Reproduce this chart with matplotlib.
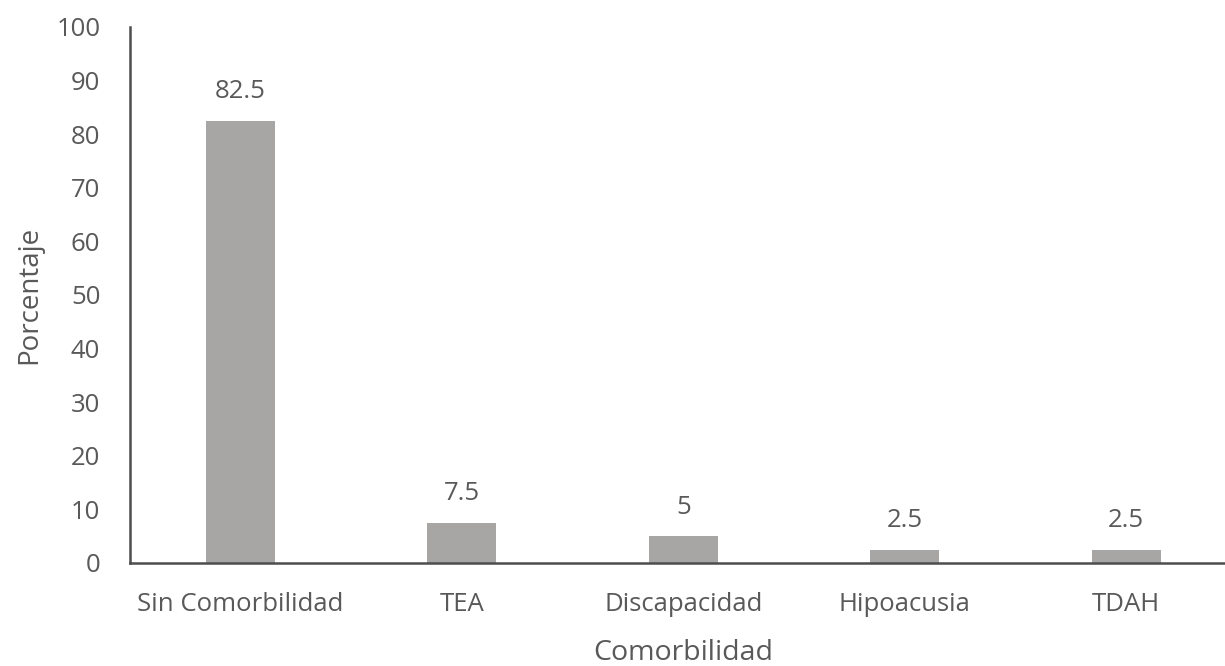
import matplotlib
matplotlib.use("Agg")
import matplotlib.pyplot as plt

categories = ["Sin Comorbilidad", "TEA", "Discapacidad", "Hipoacusia", "TDAH"]
values = [82.5, 7.5, 5, 2.5, 2.5]
value_labels = ["82.5", "7.5", "5", "2.5", "2.5"]
y_ticks = list(range(0, 101, 10))

plt.rcParams["font.family"] = ["Open Sans", "DejaVu Sans"]
text_color = "#595959"
bar_color = "#a8a5a5"
axis_color = "#4d4d4d"

W, H = 1225, 666
fig = plt.figure(figsize=(W / 100, H / 100), dpi=100)
left, right, top, bottom = 129.5, 1237, 27, 563
ax = fig.add_axes([left / W, (H - bottom) / H, (right - left) / W, (bottom - top) / H])

x = list(range(len(categories)))
ax.bar(x, values, width=0.31, color=bar_color, zorder=2)

for xi, v, lab in zip(x, values, value_labels):
    ax.annotate(lab, (xi, v), xytext=(0, 12), textcoords="offset points",
                ha="center", va="bottom", fontsize=18.5, color=text_color)

ax.set_xlim(-0.5, len(categories) - 0.5)
ax.set_ylim(0, 100)
ax.set_yticks(y_ticks)
ax.set_xticks(x)
ax.set_xticklabels(categories)
ax.tick_params(axis="both", length=0, labelcolor=text_color)
ax.tick_params(axis="y", pad=21, labelsize=18.5)
ax.tick_params(axis="x", pad=21, labelsize=18.5)

for s in ["top", "right"]:
    ax.spines[s].set_visible(False)
for s in ["left", "bottom"]:
    ax.spines[s].set_color(axis_color)
    ax.spines[s].set_linewidth(1.8)

ax.set_ylabel("Porcentaje", fontsize=20, color=text_color, labelpad=9)
ax.set_xlabel("Comorbilidad", fontsize=20.5, color=text_color, labelpad=16)

fig.savefig("out.png", dpi=100)
